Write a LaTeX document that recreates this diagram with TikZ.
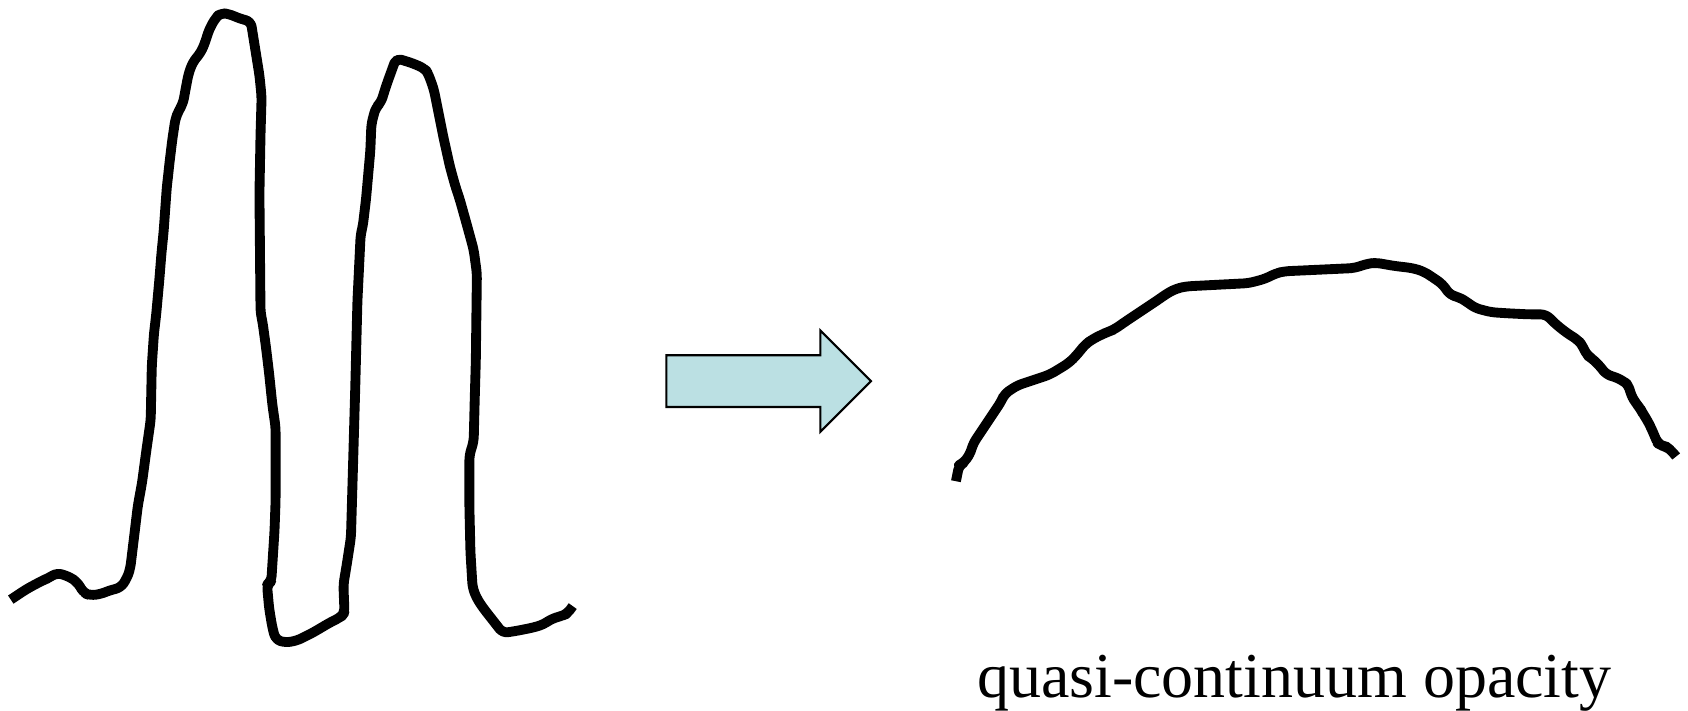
\documentclass[tikz,border=0pt]{standalone}
\usepackage{fontspec}
\setmainfont{Liberation Serif}
\definecolor{arrowfill}{RGB}{187,224,227}
\tikzset{profile/.style={line width=2.8pt,line join=round,rounded corners=1.5pt}}
\begin{document}
\begin{tikzpicture}[x=0.10765mm,y=-0.10765mm]
    \useasboundingbox (0,0) rectangle (1568,660);
    % line spectrum
    \draw[profile] (10,557) -- (25,547) -- (40,539) -- (45,537) -- (53,532) -- (65,536) -- (72,541)
        -- (78,551) -- (84,553) -- (93,552) -- (103,548) -- (112,546) -- (118,537) -- (121,528)
        -- (125,495) -- (128,470) -- (132,448) -- (136,418) -- (140,390) -- (141,340) -- (143,310)
        -- (145,293) -- (148,260) -- (150,235) -- (152,215) -- (155,173) -- (156,165) -- (157,155)
        -- (160,130) -- (163,110) -- (166,103) -- (170,96) -- (172,85) -- (175,69) -- (179,58)
        -- (187,48) -- (191,38) -- (194,28) -- (200,17) -- (205,12) -- (213,13) -- (222,17)
        -- (233,20) -- (237,45) -- (241,70) -- (243,90) -- (242,125) -- (241,180) -- (242,290)
        -- (244,300) -- (247,322) -- (250,347) -- (253,376) -- (256,397) -- (256,465) -- (255,493)
        -- (252,540) -- (248,543) -- (250,565) -- (253,583) -- (256,594) -- (265,597) -- (276,595)
        -- (290,588) -- (307,578) -- (317,573) -- (320,569) -- (319,543) -- (322,525) -- (326,499)
        -- (328,430) -- (330,360) -- (332,280) -- (335,218) -- (337,210) -- (340,185) -- (344,140)
        -- (345,115) -- (349,100) -- (354,95) -- (357,85) -- (360,76) -- (368,54) -- (384,59)
        -- (395,64) -- (398,69) -- (403,83) -- (407,103) -- (412,128) -- (418,155) -- (423,173)
        -- (427,185) -- (434,210) -- (440,232) -- (443,254) -- (442,335) -- (441,370) -- (440,410)
        -- (436,423) -- (436,470) -- (437,513) -- (439,546) -- (443,556) -- (449,565) -- (460,579)
        -- (467,588) -- (480,586) -- (495,583) -- (505,580) -- (512,575) -- (522,572) -- (527,570)
        -- (532,563);
    % arrow
    \draw[fill=arrowfill,line width=0.6pt] (619,330) -- (762,330) -- (762,307) -- (809,354)
        -- (762,401) -- (762,378) -- (619,378) -- cycle;
    % smeared opacity
    \draw[profile] (888,447) -- (891,432) -- (895,430) -- (901,422) -- (904,412) -- (918,391)
        -- (930,373) -- (933,366) -- (945,358) -- (960,353) -- (975,348) -- (985,342) -- (993,337)
        -- (1000,330) -- (1008,320) -- (1015,315) -- (1025,310) -- (1030,308) -- (1035,306)
        -- (1045,299) -- (1060,289) -- (1075,279) -- (1085,272) -- (1093,268) -- (1102,266)
        -- (1160,263) -- (1175,259) -- (1185,254) -- (1193,252) -- (1258,249) -- (1270,245)
        -- (1278,244) -- (1295,247) -- (1312,249) -- (1322,252) -- (1330,257) -- (1340,264)
        -- (1347,274) -- (1355,276) -- (1362,280) -- (1370,286) -- (1385,290) -- (1400,291)
        -- (1420,292) -- (1436,292) -- (1445,301) -- (1455,309) -- (1466,316) -- (1470,321)
        -- (1474,330) -- (1479,333) -- (1487,341) -- (1492,348) -- (1500,350) -- (1508,354)
        -- (1513,358) -- (1515,367) -- (1520,375) -- (1524,380) -- (1526,384) -- (1530,390)
        -- (1534,398) -- (1537,405) -- (1540,412) -- (1544,414) -- (1548,415) -- (1553,419)
        -- (1557,424);
    \node[anchor=base west,inner sep=0pt,font=\fontsize{18.2}{20}\selectfont] (caption) at (907,648)
        {quasi-continuum opacity};
\end{tikzpicture}
\end{document}
